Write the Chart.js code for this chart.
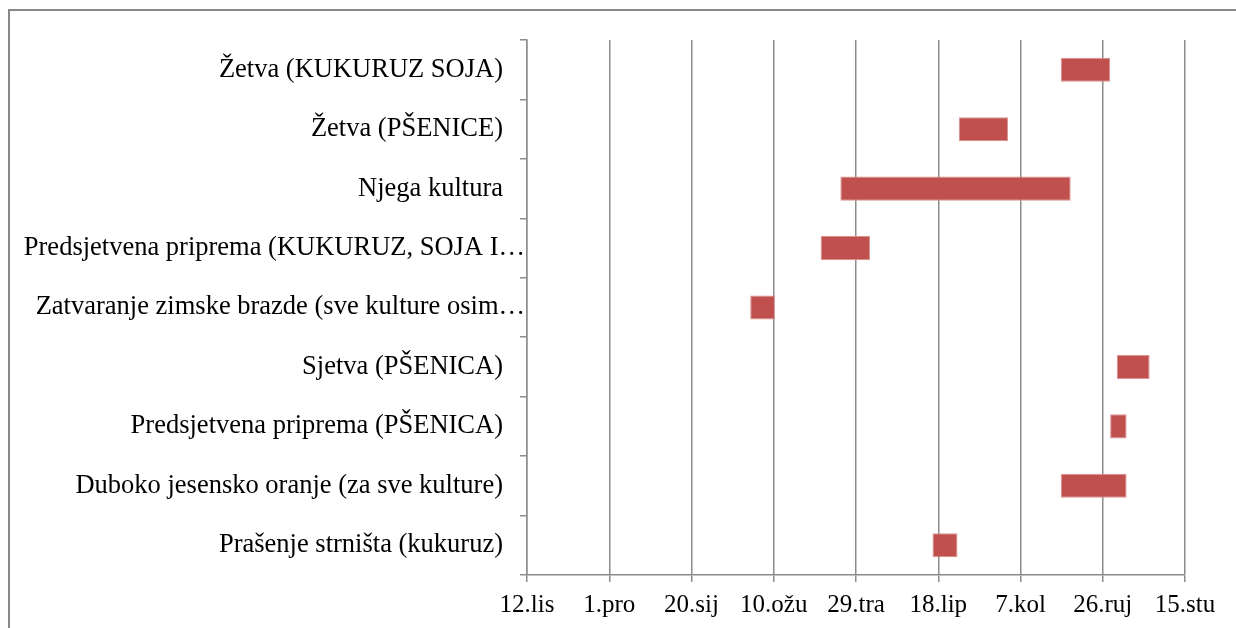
<!DOCTYPE html>
<html>
<head>
<meta charset="utf-8">
<script src="https://cdn.jsdelivr.net/npm/chart.js@4/dist/chart.umd.min.js"></script>
<style>
html,body{margin:0;padding:0;background:#fff;}
#wrap{width:1236px;height:628px;position:relative;overflow:hidden;}
</style>
</head>
<body>
<div id="wrap"><canvas id="c" width="1236" height="628"></canvas></div>
<script>
// Categories (top to bottom)
const categories = [
  'Žetva (KUKURUZ SOJA)',
  'Žetva (PŠENICE)',
  'Njega kultura',
  'Predsjetvena priprema (KUKURUZ, SOJA I…',
  'Zatvaranje zimske brazde (sve kulture osim…',
  'Sjetva (PŠENICA)',
  'Predsjetvena priprema (PŠENICA)',
  'Duboko jesensko oranje (za sve kulture)',
  'Prašenje strništa (kukuruz)'
];
// Days counted from 12.lis
const startDays = [324.5, 262.5, 190.5, 178.5, 135.7, 358.5, 354.5, 324.5, 246.5];
const endDays   = [354.5, 292.5, 330.5, 208.5, 150.7, 378.5, 364.5, 364.5, 261.7];
const tickLabels = ['12.lis', '1.pro', '20.sij', '10.ožu', '29.tra', '18.lip', '7.kol', '26.ruj', '15.stu'];
const axisMin = 0, axisMax = 400, axisStep = 50;

const FONT = "'Liberation Serif', 'Times New Roman', serif";
const GRID = '#8c8c8c';

const framePlugin = {
  id: 'frame',
  beforeDraw(chart) {
    const ctx = chart.ctx;
    ctx.save();
    ctx.fillStyle = '#fff';
    ctx.fillRect(0, 0, chart.width, chart.height);
    ctx.strokeStyle = '#888888';
    ctx.lineWidth = 2;
    ctx.beginPath();
    ctx.moveTo(9, chart.height + 2);
    ctx.lineTo(9, 10);
    ctx.lineTo(chart.width + 2, 10);
    ctx.stroke();
    ctx.restore();
    // truncated labels sit closer to the axis
    const items = chart.scales.y.getLabelItems();
    items.forEach(it => {
      if (!it._shifted && String(it.label).endsWith('…')) {
        it.options.translation[0] += 22;
        it._shifted = true;
      }
    });
  }
};

new Chart(document.getElementById('c'), {
  type: 'bar',
  data: {
    labels: categories,
    datasets: [{
      data: categories.map((c, i) => [startDays[i], endDays[i]]),
      backgroundColor: '#C0504D',
      borderColor: '#d89290',
      borderWidth: 1,
      borderSkipped: false,
      barPercentage: 0.405,
      categoryPercentage: 1
    }]
  },
  options: {
    indexAxis: 'y',
    responsive: false,
    animation: false,
    devicePixelRatio: 1,
    layout: { padding: { left: 0, top: 40, right: 51, bottom: 0 } },
    plugins: { legend: { display: false }, tooltip: { enabled: false } },
    scales: {
      x: {
        type: 'linear',
        min: axisMin, max: axisMax,
        ticks: {
          stepSize: axisStep,
          autoSkip: false, maxRotation: 0,
          callback: (v) => tickLabels[Math.round((v - axisMin) / axisStep)],
          font: { family: FONT, size: 25 },
          color: '#000',
          padding: 8
        },
        grid: { color: GRID, lineWidth: 1.5, tickLength: 7 },
        border: { color: GRID, width: 1.5 },
        afterFit(s) { s.height = 53; }
      },
      y: {
        type: 'category',
        grid: { offset: true, drawOnChartArea: false, tickLength: 7, color: GRID, lineWidth: 1.5 },
        border: { color: GRID, width: 1.5 },
        ticks: {
          autoSkip: false,
          font: { family: FONT, size: 26.5 },
          color: '#000',
          padding: 17
        },
        afterFit(s) { s.width = 527; }
      }
    }
  },
  plugins: [framePlugin]
});
</script>
</body>
</html>
